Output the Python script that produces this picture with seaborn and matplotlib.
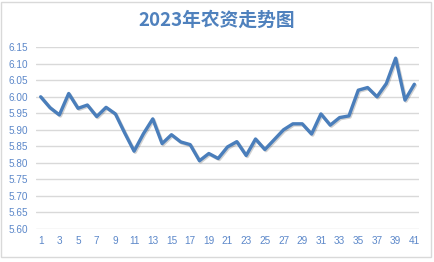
import matplotlib
matplotlib.use("Agg")
import matplotlib.pyplot as plt
import matplotlib.patheffects as pe
from matplotlib.patches import Rectangle
import seaborn as sns
import pandas as pd

title = "2023年农资走势图"
periods = list(range(1, 42))
values = [6.000, 5.967, 5.945, 6.010, 5.965, 5.975, 5.940, 5.968, 5.948, 5.890,
          5.835, 5.888, 5.933, 5.858, 5.885, 5.863, 5.855, 5.806, 5.828, 5.813,
          5.848, 5.864, 5.822, 5.872, 5.840, 5.870, 5.900, 5.918, 5.918, 5.887,
          5.948, 5.914, 5.937, 5.942, 6.020, 6.028, 6.000, 6.040, 6.117, 5.990,
          6.038]
y_ticks = [5.60, 5.65, 5.70, 5.75, 5.80, 5.85, 5.90, 5.95, 6.00, 6.05, 6.10, 6.15]
x_ticks = list(range(1, 42, 2))

df = pd.DataFrame({"period": periods, "value": values})

sns.set_theme(style="white")
plt.rcParams["font.family"] = ["Liberation Sans", "Noto Sans CJK SC", "DejaVu Sans"]

fig = plt.figure(figsize=(4.34, 2.62), dpi=100)
ax = fig.add_axes([36 / 434, 1 - 228.7 / 262, 383 / 434, (228.7 - 47.3) / 262])

line_color = "#4a7ebb"
sns.lineplot(data=df, x="period", y="value", ax=ax, color=line_color,
             linewidth=2.4, zorder=3)
for ln in ax.lines:
    ln.set_path_effects([pe.SimpleLineShadow(offset=(0.8, -0.8), alpha=0.18, shadow_color="black"),
                         pe.Normal()])
    ln.set_solid_joinstyle("round")
    ln.set_solid_capstyle("round")

ax.set_xlim(0.5, 41.5)
ax.set_ylim(5.60, 6.15)
ax.set_yticks(y_ticks)
ax.set_yticklabels([f"{v:.2f}" for v in y_ticks])
ax.set_xticks(x_ticks)
ax.set_xticklabels([str(v) for v in x_ticks])
ax.grid(axis="y", color="#d9d9d9", linewidth=1.0)
ax.grid(axis="x", visible=False)
for s in ax.spines.values():
    s.set_visible(False)
tick_color = "#5b87c9"
ax.tick_params(axis="y", length=0, pad=5.5, labelsize=7.2, labelcolor=tick_color)
ax.tick_params(axis="x", length=0, pad=5.5, labelsize=7.2, labelcolor=tick_color)
ax.set_xlabel("")
ax.set_ylabel("")

fig.text(0.5, 1 - 20 / 262, title, ha="center", va="center", fontsize=13.5,
         fontweight="bold", color="#4f81bd",
         family=["Noto Sans CJK SC", "DejaVu Sans"])

fig.patches.append(Rectangle((1 / 434, 5 / 262), 430 / 434, 255 / 262,
                             transform=fig.transFigure, fill=False,
                             edgecolor="#d9d9d9", linewidth=1.0))

fig.savefig("out.png", dpi=100)
